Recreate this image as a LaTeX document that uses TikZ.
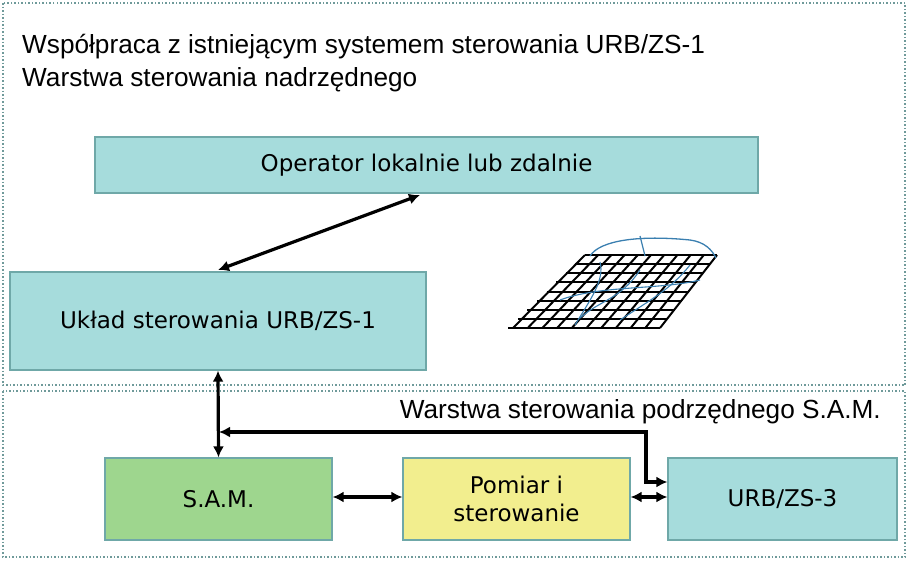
\documentclass[tikz,border=0pt]{standalone}
\usepackage{fontspec}
\setmainfont{Liberation Sans}
\newfontfamily\boxfont{DejaVu Sans}
\usetikzlibrary{arrows.meta}
\definecolor{cy}{HTML}{A6DCDC}
\definecolor{cyb}{HTML}{6FA8A8}
\definecolor{gr}{HTML}{9ED68E}
\definecolor{ye}{HTML}{F2EE8E}
\definecolor{dots}{HTML}{6F9A9A}
\definecolor{bl}{HTML}{3A7FB0}
\begin{document}
\begin{tikzpicture}[x=1pt,y=-1pt,
  layer/.style={draw=dots,dotted,line width=1.5pt},
  blk/.style={draw=cyb,line width=1.2pt,font=\boxfont\fontsize{23}{28}\selectfont,align=center,inner sep=0pt},
  conn/.style={line width=3.2pt,{Latex[length=11pt,width=11pt]}-{Latex[length=11pt,width=11pt]}},
  ttl/.style={anchor=west,font=\fontsize{26.2}{30}\selectfont,inner sep=0pt}]
\useasboundingbox (0,0) rectangle (910,565);
\draw[layer] (3,3) rectangle (905,385);
\draw[layer] (3,391) rectangle (905,557);
\node[ttl] (t1) at (22,47) {Współpraca z istniejącym systemem sterowania URB/ZS-1};
\node[ttl] (t2) at (22,80) {Warstwa sterowania nadrzędnego};
\node[ttl,anchor=east] (t3) at (881,412) {Warstwa sterowania podrzędnego S.A.M.};
\node[blk,fill=cy,minimum width=663pt,minimum height=56pt] (op) at (426.5,165) {Operator lokalnie lub zdalnie};
\node[blk,fill=cy,minimum width=416pt,minimum height=98pt] (uk) at (218,321) {Układ sterowania URB/ZS-1};
\node[blk,fill=gr,minimum width=227pt,minimum height=82pt] (sam) at (218.5,499) {S.A.M.};
\node[blk,fill=ye,minimum width=227pt,minimum height=82pt] (pom) at (516.5,499) {Pomiar i\\sterowanie};
\node[blk,fill=cy,minimum width=229pt,minimum height=82pt] (urb) at (782.5,499) {URB/ZS-3};
% grid
\begin{scope}[line width=2pt]
\foreach \i in {0,...,8} {\draw (585-9.6*\i,255+9.125*\i) -- (717-7.125*\i,255+9.125*\i);}
\foreach \j in {0,...,10} {\draw (585+13.2*\j,255) -- (513+14.7*\j,328);}
\end{scope}
\draw[bl,line width=1.3pt] (590,256) .. controls (600,240) and (640,235) .. (690,240) .. controls (705,242) and (712,250) .. (716,258);
\draw[bl,line width=1.2pt] (640,236) -- (645,256);
\draw[bl,line width=1.1pt] (560,300) .. controls (600,285) and (660,290) .. (700,280);
\draw[bl,line width=1.1pt] (580,318) .. controls (600,300) and (620,300) .. (640,270);
\draw[bl,line width=1.1pt] (620,320) .. controls (650,300) and (670,290) .. (690,265);
\draw[bl,line width=1.1pt] (600,262) .. controls (605,280) and (590,300) .. (575,325);
% connectors
\draw[conn] (420,195) -- (218,270);
\draw[conn] (uk.south) -- (sam.north);
\draw[conn] (219,432) -- (646,432) -- (646,482) -- (urb.west |- 0,482);
\draw[conn] (sam.east |- 0,497) -- (pom.west |- 0,497);
\draw[conn] (pom.east |- 0,497) -- (urb.west |- 0,497);
\end{tikzpicture}
\end{document}
